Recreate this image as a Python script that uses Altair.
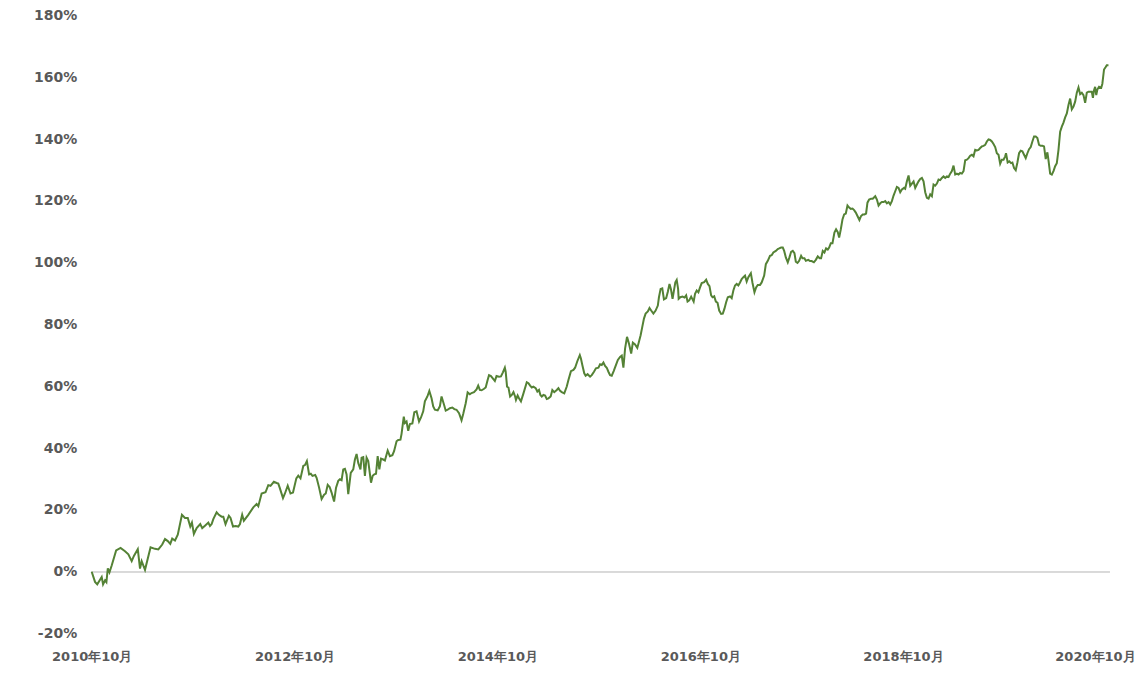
import altair as alt
import pandas as pd

# Days since 2010-10-01 and cumulative return (%)
seg1_days = [0,12,20,30,36,41,48,53,58,64,
             72,88,104,120,132,144,152,166,174,180,
             192,212,228,240,254,264,274,283,290,300,
             310,325,336,346,355,361,368,378,391,398,
             408,420,426,432,438,450,458,468,474,482,
             494,500,509,518,528,534,542,548,564,582,
             594,600,612,626,636,644,656,666,672,677,
             689,696,706,716,725,737,744,752,762,768]
seg1_vals = [0.0,-3.3,-4.1,-2.6,-1.7,-4.1,-2.8,-3.4,1.1,-0.2,
             2.0,6.9,7.7,6.6,5.6,3.4,5.1,7.3,1.0,3.4,
             0.6,7.9,7.4,7.2,8.8,10.6,9.9,9.0,10.7,10.1,
             12.0,18.4,17.4,17.4,14.6,15.9,12.2,14.1,15.4,14.1,
             14.9,15.9,14.8,15.4,17.0,19.2,18.4,17.8,17.8,15.4,
             18.1,17.4,14.6,14.8,14.6,15.4,18.4,16.5,18.4,20.8,
             21.9,21.2,25.3,25.7,28.0,27.8,29.1,28.7,28.5,27.2,
             23.8,25.3,27.8,25.3,25.6,30.2,31.1,30.2,34.2,34.5]

seg2_days = [775,783,789,795,805,810,819,828,837,843,
             850,857,864,873,880,888,894,900,906,912,
             918,924,933,942,948,954,960,968,972,978,
             984,990,996,1006,1012,1018,1024,1030,1036,1042,
             1050,1056,1066,1074,1083,1089,1098,1104,1112,1116,
             1124,1128,1134,1140,1146,1155,1162,1170,1179,1186,
             1194,1200,1209,1216,1224,1230,1236,1246,1254,1260,
             1269,1275,1282,1290,1299,1306,1314,1323,1332,1338,
             1347,1354,1362,1368,1377,1386,1392,1398,1404,1412,
             1419,1426,1431,1438,1446,1452,1458,1467,1474,1481,
             1488]
seg2_vals = [35.8,31.5,31.7,31.0,31.3,30.4,27.2,23.5,24.9,25.3,
             28.1,27.4,25.6,22.7,27.2,29.4,29.9,29.6,33.1,33.3,
             31.5,25.1,32.0,33.1,36.3,38.1,35.2,33.1,36.9,37.1,
             31.0,36.9,35.8,28.8,31.0,31.5,31.7,37.4,33.1,36.6,
             36.3,36.0,39.2,37.4,37.7,39.0,42.2,42.6,42.7,44.6,
             50.2,48.1,48.6,45.6,47.8,48.0,51.6,51.9,48.6,49.9,
             51.9,55.1,56.7,58.5,56.1,53.5,52.4,52.2,53.5,56.7,
             54.0,52.1,52.4,52.9,53.1,52.6,52.4,51.3,49.0,51.0,
             54.5,58.0,57.4,57.8,58.1,59.0,60.2,58.8,58.7,59.1,
             59.6,62.0,63.6,63.3,62.4,61.7,63.3,63.1,63.2,64.5,
             66.0]

seg3_days = [1491,1496,1501,1507,1513,1519,1525,1528,1534,1539,
             1546,1555,1567,1573,1579,1585,1591,1599,1605,1611,
             1616,1621,1627,1633,1639,1645,1653,1659,1666,1675,
             1681,1687,1693,1702,1711,1717,1726,1735,1741,1749,
             1758,1762,1767,1774,1779,1786,1795,1801,1809,1816,
             1825,1831,1837,1843,1849,1855,1861,1867,1873,1880,
             1887,1895,1903,1909,1915,1921,1928,1935,1943,1949,
             1957,1965,1971,1977,1983,1989,1995,2003,2009,2015,
             2023,2031,2039,2043,2049,2055,2061,2069,2075,2081,
             2086,2092,2098,2102,2107,2112,2114,2120,2128,2135,
             2141,2146,2152,2159,2164,2168,2173,2179,2185,2191,
             2197,2206]
seg3_vals = [64.7,59.9,59.6,56.7,57.2,58.1,56.7,55.6,57.0,56.1,
             55.1,57.7,61.3,61.0,60.2,59.6,59.9,59.4,58.3,58.8,
             57.2,56.7,57.2,57.0,55.9,56.1,56.7,58.8,58.1,58.8,
             59.4,58.5,58.1,57.7,59.9,62.0,64.9,65.3,66.0,68.1,
             70.1,69.0,66.9,64.2,63.4,63.9,63.1,63.6,64.7,65.8,
             66.0,67.1,66.9,67.7,66.6,66.0,64.7,63.6,63.4,64.9,
             66.6,68.5,69.5,69.9,66.0,72.2,76.0,73.8,70.6,74.1,
             73.5,72.4,74.4,76.5,79.2,81.9,83.5,84.2,85.3,84.5,
             83.5,84.5,86.1,88.8,91.5,91.7,88.1,88.5,90.6,93.1,
             91.5,88.3,91.5,93.6,94.4,91.5,88.3,88.8,89.0,88.7,
             89.4,87.4,87.8,89.0,88.1,87.4,89.9,91.0,90.4,92.0,
             93.4,93.7]

seg4_days = [2213,2219,2225,2231,2236,2242,2248,2254,2260,2267,
             2273,2279,2285,2291,2299,2305,2311,2317,2323,2329,
             2335,2341,2347,2353,2359,2365,2374,2380,2387,2393,
             2399,2407,2413,2422,2428,2435,2443,2449,2455,2464,
             2471,2476,2483,2489,2494,2500,2507,2513,2519,2525,
             2531,2536,2542,2548,2555,2560,2567,2572,2581,2587,
             2593,2601,2608,2615,2622,2627,2633,2639,2645,2651,
             2656,2662,2668,2675,2681,2687,2692,2698,2704,2710,
             2716,2722,2728,2734,2740,2746,2752,2758,2765,2771,
             2777,2783,2789,2794,2800,2807,2813,2822,2828,2834,
             2840,2846,2852,2858,2864,2870,2876,2882,2888,2894,
             2900,2906,2912,2918,2926]
seg4_vals = [94.5,93.1,92.4,89.4,88.8,89.1,87.4,87.0,84.5,83.4,
             83.5,85.1,87.2,88.8,89.1,88.5,91.0,92.6,93.1,92.6,
             93.6,94.7,95.3,95.8,93.9,95.3,96.6,93.4,90.4,92.0,
             92.8,92.8,93.6,95.8,99.5,100.6,102.2,102.4,103.3,103.8,
             104.4,104.6,104.9,104.9,103.8,101.7,100.1,101.7,103.5,103.8,
             103.1,100.3,99.9,100.6,102.2,101.4,101.4,100.6,100.9,100.5,
             100.5,100.1,100.9,102.0,101.4,101.4,103.8,103.3,104.6,104.2,
             104.9,106.3,106.3,109.7,110.8,109.9,108.1,110.8,114.0,115.6,
             115.9,118.5,117.8,117.4,117.5,117.0,116.2,115.1,113.8,115.1,
             115.6,115.6,115.9,119.4,120.4,120.7,120.7,121.5,120.4,118.5,
             119.2,119.6,119.6,119.9,119.2,119.6,118.8,119.9,121.7,123.1,
             124.5,124.2,122.8,123.7,124.2]

seg5_days = [2930,2936,2942,2948,2954,2960,2966,2972,2978,2984,
             2990,2996,3002,3008,3014,3020,3026,3032,3038,3044,
             3050,3056,3062,3068,3074,3080,3086,3092,3098,3104,
             3110,3116,3122,3128,3134,3140,3146,3152,3158,3164,
             3170,3176,3182,3188,3194,3200,3206,3212,3218,3224,
             3230,3236,3242,3248,3254,3260,3266,3272,3278,3284,
             3290,3293,3299,3305,3311,3316,3322,3328,3334,3340,
             3346,3352,3358,3364,3370,3376,3382,3388,3394,3400,
             3406,3412,3418,3424,3430,3436,3442,3446,3452,3458,
             3464,3470,3476,3482,3488,3494,3500,3506,3512,3518,
             3524,3530,3536,3542,3548,3554,3560,3566,3572,3578,
             3584,3590,3596,3602,3606,3610,3614,3618,3622,3628,
             3636,3640,3646,3652,3656,3662]
seg5_vals = [123.9,126.3,128.2,124.9,125.6,126.3,124.2,125.3,126.3,127.1,
             127.4,126.3,122.8,121.0,120.7,122.1,121.5,125.3,124.9,125.6,
             126.9,126.7,127.4,127.9,127.4,127.9,127.7,128.8,129.6,131.4,
             128.5,128.8,128.5,129.0,128.8,129.6,133.1,133.3,133.8,134.6,
             134.9,134.4,136.5,136.3,136.5,137.1,137.6,137.8,138.1,139.2,
             139.9,139.7,139.2,138.4,137.4,135.4,134.9,132.0,133.3,133.3,
             134.4,135.4,132.4,132.8,132.2,132.4,130.6,129.9,132.4,135.4,
             136.2,136.0,134.9,133.8,135.4,136.7,137.4,139.2,140.8,140.8,
             140.3,138.1,137.8,137.8,137.6,133.5,135.7,133.1,128.8,128.5,
             129.6,131.2,132.2,136.5,142.4,144.0,145.3,147.0,148.3,151.0,
             153.1,149.6,150.5,152.1,155.0,156.7,154.5,155.0,154.2,151.7,
             155.0,155.3,155.3,155.3,153.3,155.8,156.9,154.2,156.0,156.9,
             156.6,157.9,162.5,163.3,163.9,163.9]

y_ticks = [-20, 0, 20, 40, 60, 80, 100, 120, 140, 160, 180]
x_tick_years = [2010, 2012, 2014, 2016, 2018, 2020]

days = seg1_days + seg2_days + seg3_days + seg4_days + seg5_days
vals = seg1_vals + seg2_vals + seg3_vals + seg4_vals + seg5_vals
n = min(len(days), len(vals))

start = pd.Timestamp("2010-10-01")
df = pd.DataFrame({
    "date": [(start + pd.Timedelta(days=d)).strftime("%Y-%m-%dT%H:%M:%S") for d in days[:n]],
    "value": vals[:n],
})

x_scale = alt.Scale(domain=[alt.DateTime(year=2010, month=10, date=1),
                            alt.DateTime(year=2020, month=10, date=13)])
y_scale = alt.Scale(domain=[-20, 180], nice=False, zero=False)

label_color = "#595959"

line = alt.Chart(df).mark_line(color="#548235", strokeWidth=2).encode(
    x=alt.X("date:T", scale=x_scale, title=None,
            axis=alt.Axis(values=[alt.DateTime(year=y, month=10, date=1) for y in x_tick_years],
                          format="%Y年%m月", grid=False, domain=False, ticks=False,
                          labelPadding=17, labelFont="DejaVu Sans", labelFontSize=13,
                          labelFontWeight="bold", labelColor=label_color,
                          labelOverlap=False, labelFlush=False,
                          labelOffset={"condition": {"test": "datum.index === 1", "value": -11},
                                       "value": 0})),
    y=alt.Y("value:Q", scale=y_scale, title=None,
            axis=alt.Axis(values=y_ticks, labelExpr="datum.value + '%'",
                          grid=False, domain=False, ticks=False,
                          labelPadding=15, labelFont="DejaVu Sans", labelFontSize=14,
                          labelFontWeight="bold", labelColor=label_color)),
)

zero_rule = alt.Chart(df).mark_rule(color="#d9d9d9", strokeWidth=1).encode(
    y=alt.datum(0)
)

chart = alt.layer(zero_rule, line).properties(
    width=1017.6,
    height=618.1,
    autosize="none",
    padding={"left": 83.7, "top": 7.4, "right": 26.7, "bottom": 32.5},
    background="white",
).configure_view(stroke=None)

chart.save("out.html", embed_options={"renderer": "svg", "actions": False})
